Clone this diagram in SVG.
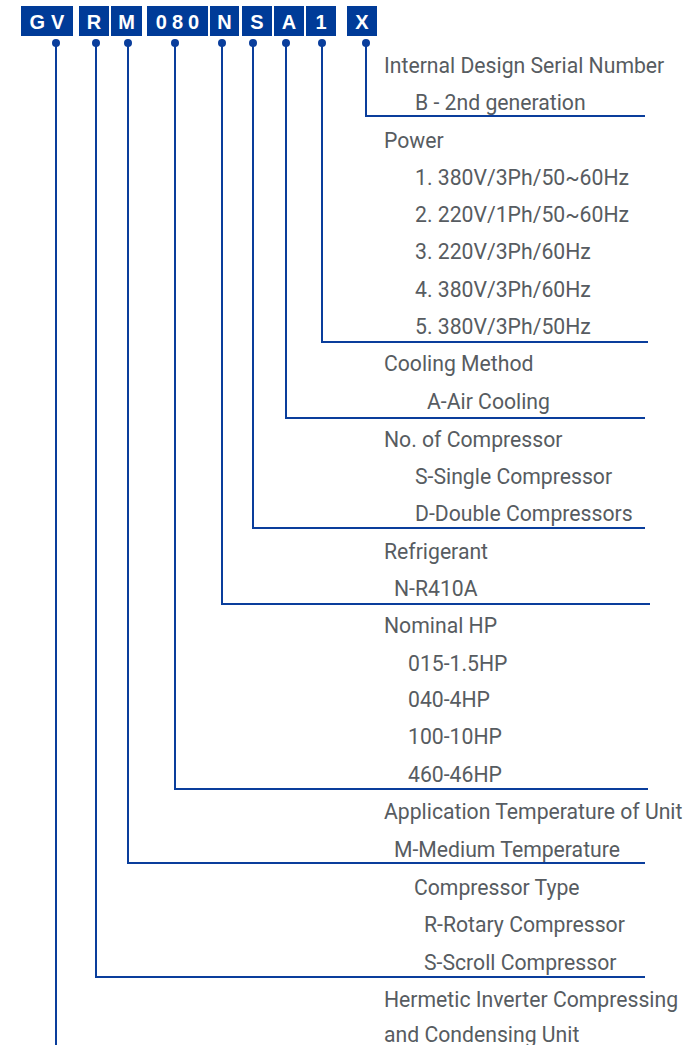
<svg xmlns="http://www.w3.org/2000/svg" width="690" height="1045" viewBox="0 0 690 1045">
<style>
.box{fill:#003b98}
.bt{fill:#fff;font-family:"Liberation Sans",Arial,sans-serif;font-weight:bold;font-size:20px;text-anchor:middle}
.t{fill:#575c61;font-family:"Roboto","Liberation Sans",sans-serif;font-size:21.2px}
.ln{fill:none;stroke:#0a3e9c;stroke-width:2}
.dot{fill:#0a3e9c}
</style>
<rect width="690" height="1045" fill="#fff"/>
<g id="codes">
<g id="c-GV"><rect class="box" x="21" y="6" width="52" height="30"/><text class="bt" x="47" y="28.5" letter-spacing="6" dx="3">GV</text></g>
<g id="c-R"><rect class="box" x="79" y="6" width="30" height="30"/><text class="bt" x="94" y="28.5">R</text></g>
<g id="c-M"><rect class="box" x="111" y="6" width="31" height="30"/><text class="bt" x="126.5" y="28.5">M</text></g>
<g id="c-080"><rect class="box" x="147" y="6" width="61" height="30"/><text class="bt" x="177.5" y="28.5" letter-spacing="5" dx="2.5">080</text></g>
<g id="c-N"><rect class="box" x="210" y="6" width="29" height="30"/><text class="bt" x="224.5" y="28.5">N</text></g>
<g id="c-S"><rect class="box" x="242" y="6" width="30" height="30"/><text class="bt" x="257" y="28.5">S</text></g>
<g id="c-A"><rect class="box" x="274" y="6" width="30" height="30"/><text class="bt" x="289" y="28.5">A</text></g>
<g id="c-1"><rect class="box" x="306" y="6" width="30" height="30"/><text class="bt" x="321" y="28.5">1</text></g>
<g id="c-X"><rect class="box" x="347" y="6" width="30" height="30"/><text class="bt" x="362" y="28.5">X</text></g>
</g>
<g id="connectors">
<circle class="dot" cx="56" cy="43" r="4"/><path class="ln" d="M56 43V1045"/>
<circle class="dot" cx="96" cy="43" r="4"/><path class="ln" d="M96 43V977H645"/>
<circle class="dot" cx="128" cy="43" r="4"/><path class="ln" d="M128 43V863H645"/>
<circle class="dot" cx="175" cy="43" r="4"/><path class="ln" d="M175 43V789H648"/>
<circle class="dot" cx="222" cy="43" r="4"/><path class="ln" d="M222 43V604H650"/>
<circle class="dot" cx="253" cy="43" r="4"/><path class="ln" d="M253 43V528H645"/>
<circle class="dot" cx="286" cy="43" r="4"/><path class="ln" d="M286 43V418H645"/>
<circle class="dot" cx="322" cy="43" r="4"/><path class="ln" d="M322 43V342H648"/>
<circle class="dot" cx="366" cy="43" r="4"/><path class="ln" d="M366 43V116H645"/>
</g>
<g id="labels">
<text class="t" x="384" y="73">Internal Design Serial Number</text>
<text class="t" x="415" y="110">B - 2nd generation</text>
<text class="t" x="384" y="148">Power</text>
<text class="t" x="415" y="185">1. 380V/3Ph/50~60Hz</text>
<text class="t" x="415" y="222">2. 220V/1Ph/50~60Hz</text>
<text class="t" x="415" y="259">3. 220V/3Ph/60Hz</text>
<text class="t" x="415" y="297">4. 380V/3Ph/60Hz</text>
<text class="t" x="415" y="334">5. 380V/3Ph/50Hz</text>
<text class="t" x="384" y="371">Cooling Method</text>
<text class="t" x="427" y="409">A-Air Cooling</text>
<text class="t" x="384" y="447">No. of Compressor</text>
<text class="t" x="415" y="484">S-Single Compressor</text>
<text class="t" x="415" y="521">D-Double Compressors</text>
<text class="t" x="384" y="559">Refrigerant</text>
<text class="t" x="394" y="596">N-R410A</text>
<text class="t" x="384" y="633">Nominal HP</text>
<text class="t" x="408" y="671">015-1.5HP</text>
<text class="t" x="408" y="707">040-4HP</text>
<text class="t" x="408" y="744">100-10HP</text>
<text class="t" x="408" y="782">460-46HP</text>
<text class="t" x="384" y="819">Application Temperature of Unit</text>
<text class="t" x="394" y="857">M-Medium Temperature</text>
<text class="t" x="414" y="895">Compressor Type</text>
<text class="t" x="424" y="932">R-Rotary Compressor</text>
<text class="t" x="424" y="970">S-Scroll Compressor</text>
<text class="t" x="384" y="1007">Hermetic Inverter Compressing</text>
<text class="t" x="384" y="1042">and Condensing Unit</text>
</g>
</svg>
